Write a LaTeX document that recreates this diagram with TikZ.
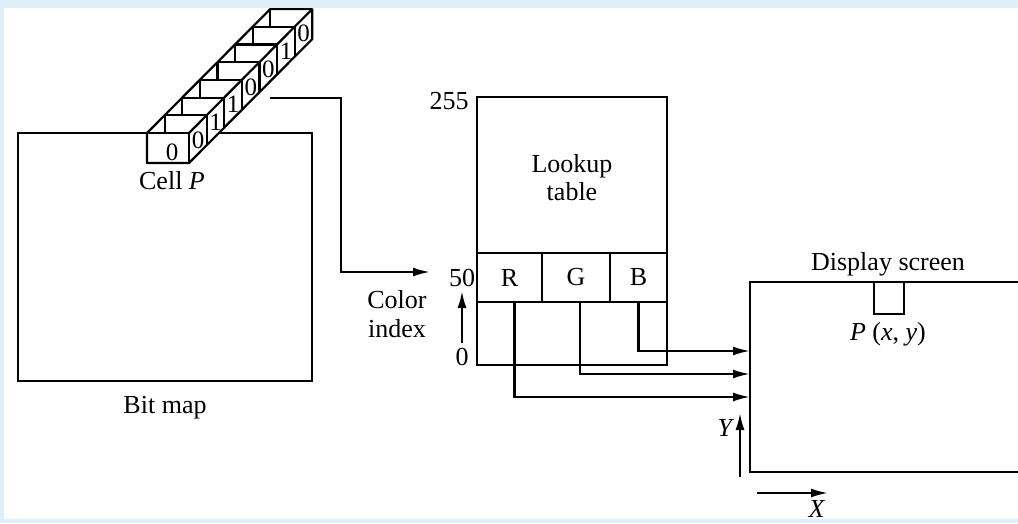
\documentclass[tikz,border=0pt]{standalone}
\usepackage{fontspec}
\setmainfont{Liberation Serif}
\usetikzlibrary{arrows.meta, positioning, calc}
\definecolor{frameblue}{RGB}{222,239,249}

\begin{document}
\begin{tikzpicture}[
    x=1pt, y=-1pt,
    every node/.style={font=\fontsize{26}{28}\selectfont, inner sep=0pt},
    line/.style={line width=2.2pt},
    box/.style={draw, line width=2.2pt, fill=white},
    arrow/.style={line width=2.2pt, -{Latex[length=17pt,width=9pt]}},
    bit/.style={font=\fontsize{25}{25}\selectfont}
]

% Cadre
\fill[frameblue] (0,0) rectangle (1018,523);
\fill[white] (4,8) rectangle (1018,519);
\useasboundingbox (0,0) rectangle (1018,523);

% Bit map
\node[box, minimum width=294pt, minimum height=248pt] (bitmap) at (165,257) {};
\node (bitmaplbl) at (165,408) {Bit map};

% Pile de bits (cellule P)
\filldraw[fill=white, line, line join=round] (147,133) -- (270.2,9.1) -- (312.2,9.1) -- (312.2,39.1)
    -- (189,163) -- (147,163) -- cycle;
\draw[line] (147,133) rectangle (189,163);
\draw[line] (189,133) -- (312.2,9.1);
\foreach \k in {1,...,7}{
    \draw[line] ({147+17.6*\k},{133-17.7*\k}) -- +(42,0);
    \draw[line] ({147+17.6*\k},{133-17.7*\k}) -- +(0,17.7);
    \draw[line] ({189+17.6*\k},{133-17.7*\k}) -- +(0,30);
}
\node[bit] (front) at (172,152) {0};
\foreach \b [count=\k from 0] in {0,1,1,0,0,1,0}
    \node[bit] (bit\k) at ({198+17.6*\k},{140-17.7*\k}) {\b};
\node (cellP) at (172,181) {Cell \textit{P}};

% Lookup table
\node[box, minimum width=190pt, minimum height=268pt] (lut) at (572,231) {};
\node[align=center] (lutlbl) at (572,178) {Lookup\\table};
\node[box, minimum width=65pt, minimum height=49pt] (R) at (509.5,277.5) {R};
\node[box, minimum width=68pt, minimum height=49pt] (G) at (576,277.5) {G};
\node[box, minimum width=57pt, minimum height=49pt] (B) at (638.5,277.5) {B};
\node (idx255) at (449,101) {255};
\node (idx50) at (462,278) {50};
\node (idx0) at (462,357) {0};
\node[align=center, font=\fontsize{26}{29}\selectfont] (colidx) at (397,314) {Color\\index};

% Index de couleur
\coordinate (cellout) at (270,98);
\coordinate (bend) at (341,98);
\coordinate (lutin) at (430,272);
\draw[arrow] (cellout) -- (bend) |- (lutin);
\coordinate (ciA) at (462,343);
\coordinate (ciB) at (462,291);
\draw[arrow] (ciA) -- (ciB);

% Ecran
\coordinate (scrTL) at (750,282);
\coordinate (scrBL) at (750,472);
\draw[line] (1020,282) -- (scrTL) -- (scrBL) -- (1020,472);
\node (scrlbl) at (888,264) {Display screen};
\node[draw, line width=2.2pt, minimum width=30pt, minimum height=32pt] (pix) at (889,298) {};
\node (pixlbl) at (888,334) {\textit{P} (\textit{x}, \textit{y})};

% R, G, B vers l'ecran
\coordinate (inB) at (750,351);
\coordinate (inG) at (750,374);
\coordinate (inR) at (750,397);
\draw[arrow] ($(R.south)+(5,0)$) |- (inR);
\draw[arrow] ($(G.south)+(4,0)$) |- (inG);
\draw[arrow] (B.south) |- (inB);

% Axes
\coordinate (yA) at (740,477);
\coordinate (yB) at (740,413);
\draw[arrow] (yA) -- (yB);
\node (ylbl) at (726,428) {\textit{Y}};
\coordinate (xA) at (757,493);
\coordinate (xB) at (828,493);
\draw[arrow] (xA) -- (xB);
\node[anchor=north] (xlbl) at (817,500) {\textit{X}};

\end{tikzpicture}
\end{document}
